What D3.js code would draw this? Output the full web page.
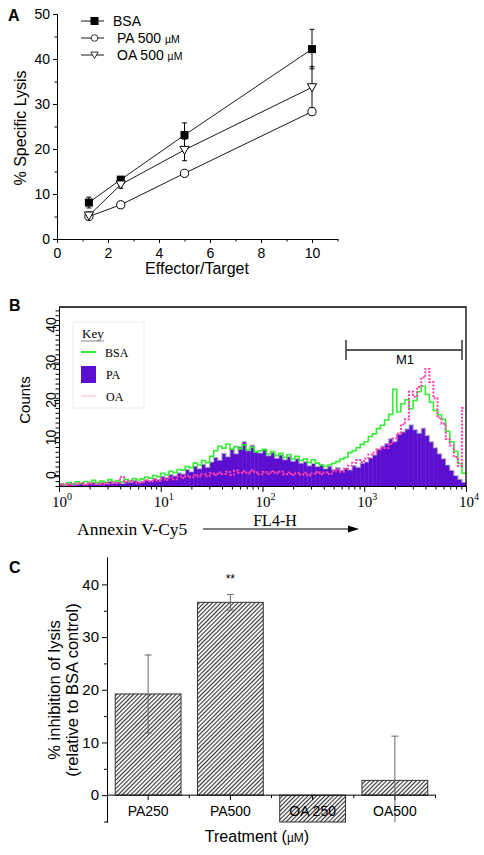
<!DOCTYPE html>
<html><head><meta charset="utf-8">
<script src="https://cdn.jsdelivr.net/npm/d3@7"></script>
<style>body{margin:0;background:#fff} svg{display:block}</style>
</head><body><svg id="c" width="484" height="855"></svg>
<script>
// ---------- Panel A data ----------
const etRatio=[1.25,2.5,5,10];
const lysisBSA=[8.1,13.2,23.1,42.2];
const errBSA=[1.2,0.5,2.7,4.4];
const lysisPA=[5.0,7.6,14.6,28.3];
const errPA=[0.6,0.7,0.6,0.7];
const lysisOA=[5.2,12.1,19.8,33.7];
const errOA=[0.8,0.8,2.4,4.6];
const ticksAx=[0,2,4,6,8,10];
const minorAx=[1,3,5,7,9,11];
const ticksAy=[0,10,20,30,40,50];
const minorAy=[5,15,25,35,45];

// ---------- Panel B data (counts per log bin, 25 bins/decade, 10^0..10^4) ----------
const histPA=[0.4,0.2,0.6,0.3,0.5,0.8,0.4,0.7,1.0,0.5,
0.9,0.6,1.2,0.8,1.1,0.7,1.3,1.0,1.5,1.2,
1.1,1.6,1.4,2.0,1.7,2.6,2.2,3.1,2.7,3.5,
3.2,4.4,3.8,5.3,4.6,5.8,5.0,6.4,7.6,6.9,
8.7,7.8,9.9,8.6,10.4,11.8,9.4,10.9,9.1,8.8,
9.6,8.1,8.9,7.4,8.3,7.0,7.8,6.6,7.3,6.1,
6.5,5.4,6.0,5.2,5.7,4.6,5.3,4.4,4.9,4.2,
4.8,4.3,5.4,5.0,6.1,6.4,7.5,8.3,9.8,10.6,
11.3,12.6,11.9,13.8,14.4,15.2,16.3,15.0,14.1,15.4,
13.5,11.8,10.2,8.6,7.3,5.6,4.2,2.8,1.8,1.0];
const histBSA=[0.6,0.4,0.9,0.5,1.1,0.7,1.2,0.8,1.5,0.9,
1.3,1.0,1.7,1.2,1.4,1.1,1.8,1.3,2.0,1.6,
1.9,2.4,2.1,2.8,2.5,3.4,3.0,3.9,3.6,4.4,
4.2,5.2,4.9,6.1,5.6,6.8,6.2,7.9,9.4,10.6,
10.1,11.2,9.8,10.5,9.9,11.0,9.6,10.3,9.1,9.4,
9.8,8.6,9.2,8.1,8.7,7.6,8.4,7.2,7.9,6.8,
7.2,6.3,7.0,6.1,5.6,5.2,5.6,6.0,6.5,7.2,
7.6,8.9,9.4,10.2,11.1,11.8,13.2,13.9,15.3,16.2,
17.6,19.1,25.8,19.7,21.9,23.0,20.6,22.8,25.1,26.6,
24.4,22.3,20.1,19.0,17.8,14.6,11.8,9.2,6.0,3.4];
const histOA=[0.3,0.5,0.2,0.6,0.4,0.7,0.3,0.9,0.5,0.6,
0.4,0.8,0.6,1.0,0.7,2.4,0.9,1.4,1.1,0.8,
1.0,1.5,1.2,1.8,1.4,1.9,1.6,2.3,1.8,2.5,
2.1,2.7,2.3,2.9,2.5,3.1,2.6,3.4,2.9,3.6,
3.2,3.8,3.0,4.1,3.5,3.9,3.3,4.2,3.6,3.1,
3.7,3.2,4.0,3.4,3.8,3.1,3.6,2.9,3.4,3.0,
3.5,2.8,3.3,3.7,3.1,3.6,3.2,3.9,4.3,3.8,
4.5,5.4,6.2,6.9,6.4,7.3,8.4,8.9,9.7,10.3,
10.1,11.2,12.7,14.0,16.4,17.8,25.1,23.8,26.4,28.9,
31.2,27.7,23.4,18.2,16.6,12.5,10.8,7.7,5.3,20.8];
const decadesB=[1,10,100,1000,10000];
const ticksBy=[0,10,20,30,40];
const legendB=["BSA","PA","OA"];

// ---------- Panel C data ----------
const treatments=["PA250","PA500","OA 250","OA500"];
const inhibition=[19.2,36.6,-5.1,2.8];
const inhibErr=[7.4,1.5,0,8.4];
const ticksCy=[0,10,20,30,40];
const minorCy=[5,15,25,35];

const SANS='"Liberation Sans", Arial, sans-serif';
const SERIF='"Liberation Serif", "Times New Roman", serif';
const svg=d3.select("#c");

function styleAxis(g,size,fam){
  g.attr("font-family",fam).attr("font-size",size);
  g.selectAll("text").attr("fill","#000");
  g.selectAll("line,path").attr("stroke","#000");
}

// ================= Panel A =================
const xA=d3.scaleLinear().domain([0,11]).range([57,337.5]);
const yA=d3.scaleLinear().domain([0,50]).range([239,14]);
const gA=svg.append("g");
gA.append("text").attr("x",8).attr("y",21).attr("font-family",SANS).attr("font-weight","bold").attr("font-size",16).text("A");
let ax=gA.append("g").attr("transform","translate(0,239)")
  .call(d3.axisBottom(xA).tickValues(ticksAx).tickSize(4).tickSizeOuter(0).tickPadding(5).tickFormat(d3.format("d")));
styleAxis(ax,14,SANS);
ax=gA.append("g").attr("transform","translate(0,239)")
  .call(d3.axisBottom(xA).tickValues(minorAx).tickSize(2.5).tickSizeOuter(0).tickFormat(""));
styleAxis(ax,14,SANS);
let ay=gA.append("g").attr("transform","translate(57,0)")
  .call(d3.axisLeft(yA).tickValues(ticksAy).tickSize(4).tickSizeOuter(0).tickPadding(3));
styleAxis(ay,14,SANS);
ay=gA.append("g").attr("transform","translate(57,0)")
  .call(d3.axisLeft(yA).tickValues(minorAy).tickSize(2.5).tickSizeOuter(0).tickFormat(""));
styleAxis(ay,14,SANS);
gA.append("text").attr("x",197).attr("y",274).attr("text-anchor","middle").attr("font-family",SANS).attr("font-size",16).text("Effector/Target");
gA.append("text").attr("transform","translate(26,128) rotate(-90)").attr("text-anchor","middle").attr("font-family",SANS).attr("font-size",16).text("% Specific Lysis");

const seriesA=[
  {name:"BSA",vals:lysisBSA,err:errBSA,sym:"square"},
  {name:"PA",vals:lysisPA,err:errPA,sym:"circle"},
  {name:"OA",vals:lysisOA,err:errOA,sym:"tri"}
];
function drawSym(g,sym,x,y){
  if(sym==="square") g.append("rect").attr("x",x-4).attr("y",y-4).attr("width",8).attr("height",8).attr("fill","#000");
  else if(sym==="circle") g.append("circle").attr("cx",x).attr("cy",y).attr("r",4.1).attr("fill","#fff").attr("stroke","#000").attr("stroke-width",1);
  else g.append("path").attr("d",`M${x-4.6},${y-3.6}L${x+4.6},${y-3.6}L${x},${y+4.4}Z`).attr("fill","#fff").attr("stroke","#000").attr("stroke-width",1);
}
const lineA=d3.line().x((d,i)=>xA(etRatio[i])).y(d=>yA(d));
seriesA.forEach(s=>{
  gA.append("path").attr("d",lineA(s.vals)).attr("fill","none").attr("stroke","#000").attr("stroke-width",0.9);
});
seriesA.forEach(s=>{
  s.vals.forEach((v,i)=>{
    const x=xA(etRatio[i]);
    gA.append("line").attr("x1",x).attr("x2",x).attr("y1",yA(v-s.err[i])).attr("y2",yA(v+s.err[i])).attr("stroke","#000");
    [v-s.err[i],v+s.err[i]].forEach(e=>gA.append("line").attr("x1",x-2.5).attr("x2",x+2.5).attr("y1",yA(e)).attr("y2",yA(e)).attr("stroke","#000"));
  });
});
seriesA.forEach(s=>s.vals.forEach((v,i)=>drawSym(gA,s.sym,xA(etRatio[i]),yA(v))));
// legend A
const legA=[{t:"BSA",u:"",sym:"square",y:21,tx:113},{t:"PA 500 ",u:"\u00b5M",sym:"circle",y:38,tx:117},{t:"OA 500 ",u:"\u00b5M",sym:"tri",y:55,tx:117}];
legA.forEach(l=>{
  gA.append("line").attr("x1",81).attr("x2",104).attr("y1",l.y).attr("y2",l.y).attr("stroke","#000").attr("stroke-width",0.9);
  const gg=gA.append("g"); drawSym(gg,l.sym,94.5,l.y);
  if(l.sym!=="square") gg.selectAll("*").attr("transform",`translate(${94.5},${l.y}) scale(0.8) translate(${-94.5},${-l.y})`);
  const t=gA.append("text").attr("x",l.tx).attr("y",l.y+5).attr("font-family",SANS).attr("font-size",14).text(l.t);
  if(l.u) t.append("tspan").attr("font-size",10.5).text(l.u);
});

// ================= Panel B =================
const xB=d3.scaleLog().domain([1,1e4]).range([59,466]);
const yH=d3.scaleLinear().domain([0,47.7]).range([486,307]);
const yLab=d3.scaleLinear().domain([0,40]).range([475,325]);
const gB=svg.append("g");
gB.append("text").attr("x",9).attr("y",311).attr("font-family",SANS).attr("font-weight","bold").attr("font-size",16).text("B");
const nb=histPA.length;
const edge=i=>xB(Math.pow(10,4*i/nb));
// PA filled
gB.selectAll("rect.pa").data(histPA).join("rect").attr("class","pa")
  .attr("x",(d,i)=>edge(i)).attr("width",(d,i)=>edge(i+1)-edge(i)+0.4)
  .attr("y",d=>yH(d)).attr("height",d=>yH(0)-yH(d)).attr("fill","#5c0fd0");
const stepPts=arr=>arr.map((v,i)=>[edge(i),yH(v)]).concat([[edge(nb),yH(arr[nb-1])]]);
const stepLine=d3.line().curve(d3.curveStepAfter);
gB.append("path").attr("d",stepLine(stepPts(histPA))).attr("fill","none").attr("stroke","#b8b8c8").attr("stroke-width",1.2).attr("opacity",0.8);
gB.append("path").attr("d",stepLine(stepPts(histBSA))).attr("fill","none").attr("stroke","#33ee33").attr("stroke-width",1.6);
gB.append("path").attr("d",stepLine(stepPts(histOA))).attr("fill","none").attr("stroke","#ff3fae").attr("stroke-width",2).attr("stroke-dasharray","2,1.5");
// frame
gB.append("path").attr("d","M59,307H466V486").attr("fill","none").attr("stroke","#000").attr("stroke-width",1.3);
// x axis
let bx=gB.append("g").attr("transform","translate(0,486)")
  .call(d3.axisBottom(xB).tickValues(decadesB).tickSize(6).tickSizeOuter(0).tickFormat(""));
styleAxis(bx,14,SERIF);
const minorB=[];decadesB.slice(0,4).forEach(d=>{for(let k=2;k<10;k++)minorB.push(d*k);});
bx=gB.append("g").attr("transform","translate(0,486)")
  .call(d3.axisBottom(xB).tickValues(minorB).tickSize(3.5).tickSizeOuter(0).tickFormat(""));
styleAxis(bx,14,SERIF);
decadesB.forEach((d,i)=>{
  const t=gB.append("text").attr("x",xB(d)+3).attr("y",507).attr("text-anchor","middle").attr("font-family",SERIF).attr("font-size",15).text("10");
  t.append("tspan").attr("dy",-7).attr("font-size",10).text(i);
});
// y axis
let by=gB.append("g").attr("transform","translate(59,0)")
  .call(d3.axisLeft(yH).tickValues(d3.range(0,47.5,1.3)).tickSize(3.5).tickSizeOuter(0).tickFormat(""));
styleAxis(by,14,SANS);
by=gB.append("g").attr("transform","translate(59,0)")
  .call(d3.axisLeft(yLab).tickValues(ticksBy).tickSize(5).tickSizeOuter(0).tickFormat(""));
by.select(".domain").remove();
styleAxis(by,14,SANS);
ticksBy.forEach(v=>{
  gB.append("text").attr("transform",`translate(56,${yLab(v)}) rotate(-90)`).attr("text-anchor","middle").attr("font-family",SANS).attr("font-size",14).text(v);
});
gB.append("text").attr("transform","translate(30,400) rotate(-90)").attr("text-anchor","middle").attr("font-family",SANS).attr("font-size",15).text("Counts");
// legend B
gB.append("rect").attr("x",73).attr("y",322).attr("width",71).attr("height",86).attr("fill","none").attr("stroke","#ececec");
gB.append("text").attr("x",82).attr("y",338).attr("font-family",SERIF).attr("font-size",13).text("Key");
gB.append("line").attr("x1",81).attr("x2",104).attr("y1",341).attr("y2",341).attr("stroke","#999").attr("stroke-width",1.2);
gB.append("line").attr("x1",81).attr("x2",96).attr("y1",352).attr("y2",352).attr("stroke","#33ee33").attr("stroke-width",2);
gB.append("rect").attr("x",81).attr("y",366).attr("width",15).attr("height",17).attr("fill","#5c0fd0");
gB.append("line").attr("x1",81).attr("x2",96).attr("y1",396).attr("y2",396).attr("stroke","#f7c6d6").attr("stroke-width",1.2);
[357,379,401].forEach((yy,i)=>gB.append("text").attr("x",i?106:105).attr("y",yy).attr("font-family",SERIF).attr("font-size",12).text(legendB[i]));
// M1 marker
gB.append("path").attr("d","M346,340V360M346,350H462M462,340V360").attr("fill","none").attr("stroke","#555").attr("stroke-width",1.8);
gB.append("text").attr("x",405).attr("y",364).attr("text-anchor","middle").attr("font-family",SANS).attr("font-size",13).text("M1");
// axis title
gB.append("text").attr("x",77).attr("y",535).attr("font-family",SERIF).attr("font-size",17.5).text("Annexin V-Cy5");
gB.append("text").attr("x",275).attr("y",526).attr("text-anchor","middle").attr("font-family",SERIF).attr("font-size",16).text("FL4-H");
gB.append("line").attr("x1",203).attr("x2",350).attr("y1",529).attr("y2",529).attr("stroke","#000").attr("stroke-width",1);
gB.append("path").attr("d","M359,529L348,525.5L348,532.5Z").attr("fill","#000");

// ================= Panel C =================
const xC=d3.scaleBand().domain(treatments).range([107,436]).paddingInner(0.2).paddingOuter(0.1);
const yC=d3.scaleLinear().domain([-5.1,45.2]).range([822,557]);
const gC=svg.append("g");
gC.append("text").attr("x",9).attr("y",573).attr("font-family",SANS).attr("font-weight","bold").attr("font-size",16).text("C");
const defs=svg.append("defs");
const pat=defs.append("pattern").attr("id","hatch").attr("patternUnits","userSpaceOnUse").attr("width",3).attr("height",3).attr("patternTransform","rotate(45)");
pat.append("rect").attr("width",3).attr("height",3).attr("fill","#f2f2f2");
pat.append("line").attr("x1",0.5).attr("x2",0.5).attr("y1",0).attr("y2",3).attr("stroke","#333").attr("stroke-width",1);
gC.selectAll("rect.bar").data(inhibition).join("rect").attr("class","bar")
  .attr("x",(d,i)=>xC(treatments[i])).attr("width",xC.bandwidth())
  .attr("y",d=>yC(Math.max(0,d))).attr("height",d=>Math.abs(yC(d)-yC(0)))
  .attr("fill","url(#hatch)").attr("stroke","#333").attr("stroke-width",1);
// axes C
let cy=gC.append("g").attr("transform","translate(107,0)")
  .call(d3.axisLeft(yC).tickValues(ticksCy).tickSize(5).tickSizeOuter(0).tickPadding(3));
styleAxis(cy,15,SANS);
cy=gC.append("g").attr("transform","translate(107,0)")
  .call(d3.axisLeft(yC).tickValues(minorCy).tickSize(3).tickSizeOuter(0).tickFormat(""));
styleAxis(cy,15,SANS);
gC.append("line").attr("x1",104).attr("x2",107).attr("y1",822).attr("y2",822).attr("stroke","#000");
gC.append("line").attr("x1",107).attr("x2",436).attr("y1",yC(0)).attr("y2",yC(0)).attr("stroke","#000");
treatments.forEach(t=>{
  const cx=xC(t)+xC.bandwidth()/2;
  gC.append("line").attr("x1",cx).attr("x2",cx).attr("y1",yC(0)).attr("y2",yC(0)+5).attr("stroke","#000");
});
[1,2,3,4].forEach(k=>{
  const bx2=107+k*xC.step();
  gC.append("line").attr("x1",bx2-(k===4?0.5:0)).attr("x2",bx2-(k===4?0.5:0)).attr("y1",yC(0)).attr("y2",yC(0)+3).attr("stroke","#000");
});
// error bars C
inhibition.forEach((v,i)=>{
  if(!inhibErr[i]) return;
  const cx=xC(treatments[i])+xC.bandwidth()/2;
  const lo=Math.max(v-inhibErr[i],-5.1), hi=v+inhibErr[i];
  gC.append("line").attr("x1",cx).attr("x2",cx).attr("y1",yC(lo)).attr("y2",yC(hi)).attr("stroke","#666");
  gC.append("line").attr("x1",cx-3.5).attr("x2",cx+3.5).attr("y1",yC(hi)).attr("y2",yC(hi)).attr("stroke","#666");
  if(lo>-5.1) gC.append("line").attr("x1",cx-3.5).attr("x2",cx+3.5).attr("y1",yC(lo)).attr("y2",yC(lo)).attr("stroke","#666");
});
treatments.forEach(t=>{
  gC.append("text").attr("x",xC(t)+xC.bandwidth()/2).attr("y",816).attr("text-anchor","middle").attr("font-family",SANS).attr("font-size",14).text(t);
});
gC.append("text").attr("x",xC("PA500")+xC.bandwidth()/2).attr("y",583).attr("text-anchor","middle").attr("font-family",SANS).attr("font-size",12).text("**");
const tt=gC.append("text").attr("x",257).attr("y",842).attr("text-anchor","middle").attr("font-family",SANS).attr("font-size",16);
tt.append("tspan").text("Treatment (");
tt.append("tspan").attr("font-size",12).text("\u00b5M");
tt.append("tspan").text(")");
gC.append("text").attr("transform","translate(60,690) rotate(-90)").attr("text-anchor","middle").attr("font-family",SANS).attr("font-size",16.5).text("% inhibition of lysis");
gC.append("text").attr("transform","translate(78,690) rotate(-90)").attr("text-anchor","middle").attr("font-family",SANS).attr("font-size",16.5).text("(relative to BSA control)");
</script></body></html>
